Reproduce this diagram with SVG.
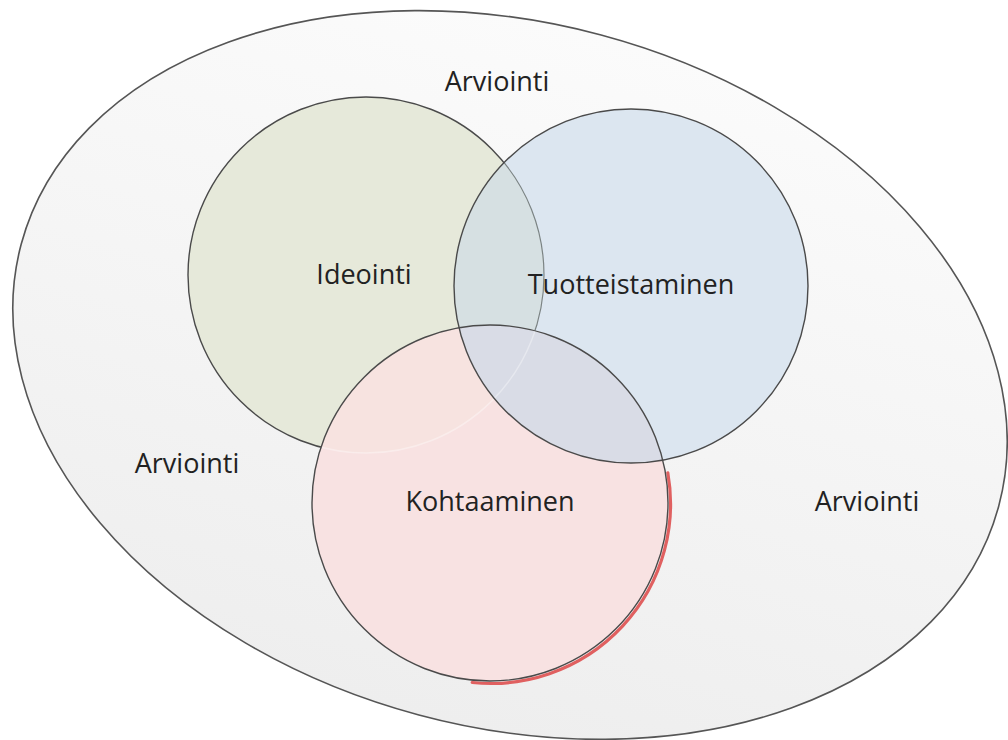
<svg xmlns="http://www.w3.org/2000/svg" width="1008" height="740" viewBox="0 0 1008 740">
  <defs>
    <linearGradient id="outerFill" x1="0" y1="0" x2="0" y2="1">
      <stop offset="0" stop-color="#fbfbfb"/>
      <stop offset="1" stop-color="#eeeeee"/>
    </linearGradient>
    <circle id="cG" cx="366" cy="275" r="178"/>
    <circle id="cB" cx="631" cy="286" r="177"/>
    <circle id="cP" cx="490" cy="503" r="178"/>
    <clipPath id="clipG"><use href="#cG"/></clipPath>
    <clipPath id="clipB"><use href="#cB"/></clipPath>
    <clipPath id="clipP"><use href="#cP"/></clipPath>
    <filter id="soft" x="-10%" y="-10%" width="120%" height="120%">
      <feGaussianBlur stdDeviation="0.6"/>
    </filter>
  </defs>
  <style>
    .lbl { font-family: "Open Sans", "Liberation Sans", sans-serif; font-size: 27px; fill: #222222; text-anchor: middle; }
    .edge { fill: none; stroke: #4a4a4a; stroke-width: 1.4; }
  </style>
  <rect width="1008" height="740" fill="#ffffff"/>

  <g id="outer">
    <ellipse cx="510" cy="375" rx="506" ry="352" transform="rotate(15 510 375)" fill="url(#outerFill)" stroke="#555555" stroke-width="1.6"/>
  </g>

  <g id="connectors"></g>

  <g id="pink-shadow">
    <path d="M 666.8 471.8 A 179.5 179.5 0 0 1 471.2 681.5" fill="none" stroke="#e06060" stroke-width="3.2" stroke-linecap="round" transform="translate(1 1)" filter="url(#soft)"/>
  </g>

  <g id="ideointi">
    <use href="#cG" fill="#e6e9da" stroke="#4a4a4a" stroke-width="1.4"/>
  </g>

  <g id="tuotteistaminen">
    <use href="#cB" fill="#dce6f0"/>
    <g clip-path="url(#clipG)">
      <use href="#cB" fill="#d6e0e2"/>
    </g>
    <g clip-path="url(#clipB)">
      <use href="#cG" fill="none" stroke="#7c8484" stroke-width="1.2"/>
    </g>
  </g>

  <g id="kohtaaminen">
    <use href="#cP" fill="#f8e2e2"/>
    <g clip-path="url(#clipG)">
      <use href="#cP" fill="#f7e3e0"/>
    </g>
    <g clip-path="url(#clipB)">
      <use href="#cP" fill="#d9dce6"/>
    </g>
    <g clip-path="url(#clipP)">
      <use href="#cG" fill="none" stroke="#ffffff" stroke-opacity="0.35" stroke-width="1.5"/>
    </g>
  </g>

  <g id="edges">
    <use href="#cB" class="edge"/>
    <use href="#cP" class="edge"/>
  </g>

  <g id="labels">
    <text class="lbl" x="497" y="91">Arviointi</text>
    <text class="lbl" x="364" y="284">Ideointi</text>
    <text class="lbl" x="631" y="294">Tuotteistaminen</text>
    <text class="lbl" x="490" y="511">Kohtaaminen</text>
    <text class="lbl" x="187" y="473">Arviointi</text>
    <text class="lbl" x="867" y="511">Arviointi</text>
  </g>
</svg>
